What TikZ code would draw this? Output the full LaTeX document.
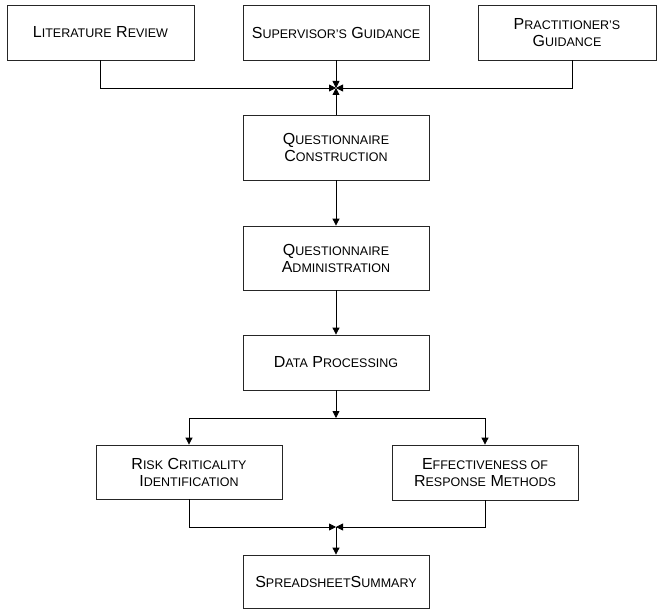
\documentclass[tikz,border=0pt]{standalone}
\usepackage{fontspec}
\setmainfont{Liberation Sans}
\usetikzlibrary{arrows.meta}

\newcommand{\sm}[1]{{\fontsize{12.5}{17}\selectfont #1}}

\begin{document}
\begin{tikzpicture}[x=1pt,y=-1pt,
  box/.style={draw=black!85, line width=0.8pt, minimum width=186pt, minimum height=55pt,
    inner sep=0pt, align=center, font=\fontsize{16}{17}\selectfont},
  flow/.style={line width=0.8pt, -{Triangle[length=7pt,width=7pt]}}]
 \useasboundingbox (0,0) rectangle (657,610);

 \node (LR) at (100.5,32.5) [box, minimum width=187pt] {L\sm{ITERATURE} R\sm{EVIEW}}; % 左上
 \node (SG) at (336,32.5) [box] {S\sm{UPERVISOR'S} G\sm{UIDANCE}}; % 中央上
 \node (PG) at (567,32.5) [box, minimum width=178pt] {P\sm{RACTITIONER'S}\\ G\sm{UIDANCE}}; % 右上

 \coordinate (J1) at (336,88); % 上の合流点

 \node (QC) at (336,147.5) [box, minimum height=65pt] {Q\sm{UESTIONNAIRE}\\ C\sm{ONSTRUCTION}};
 \node (QA) at (336,258) [box, minimum height=64pt] {Q\sm{UESTIONNAIRE}\\ A\sm{DMINISTRATION}};
 \node (DP) at (336,362.5) [box] {D\sm{ATA} P\sm{ROCESSING}};

 \coordinate (S) at (336,418); % 分岐点

 \node (RC) at (189,472) [box, minimum height=54pt] {R\sm{ISK} C\sm{RITICALITY}\\ I\sm{DENTIFICATION}};
 \node (ER) at (485,472.5) [box] {E\sm{FFECTIVENESS OF}\\ R\sm{ESPONSE} M\sm{ETHODS}};

 \coordinate (J2) at (336,527); % 下の合流点

 \node (SS) at (336,581.5) [box, minimum height=53pt] {S\sm{PREADSHEET}S\sm{UMMARY}};

 \draw [flow] (LR.south) |- (J1);
 \draw [flow] ([xshift=5pt]PG.south) |- (J1);
 \draw [flow] (SG) -- (J1);
 \draw [flow, {Triangle[length=7pt,width=7pt]}-] (J1) -- (QC);
 \draw [flow] (QC) -- (QA);
 \draw [flow] (QA) -- (DP);
 \draw [flow] (DP) -- (S);
 \draw [flow] (S) -| (RC);
 \draw [flow] (S) -| (ER);
 \draw [flow] (RC) |- (J2);
 \draw [flow] (ER) |- (J2);
 \draw [flow] (J2) -- (SS);
\end{tikzpicture}
\end{document}
